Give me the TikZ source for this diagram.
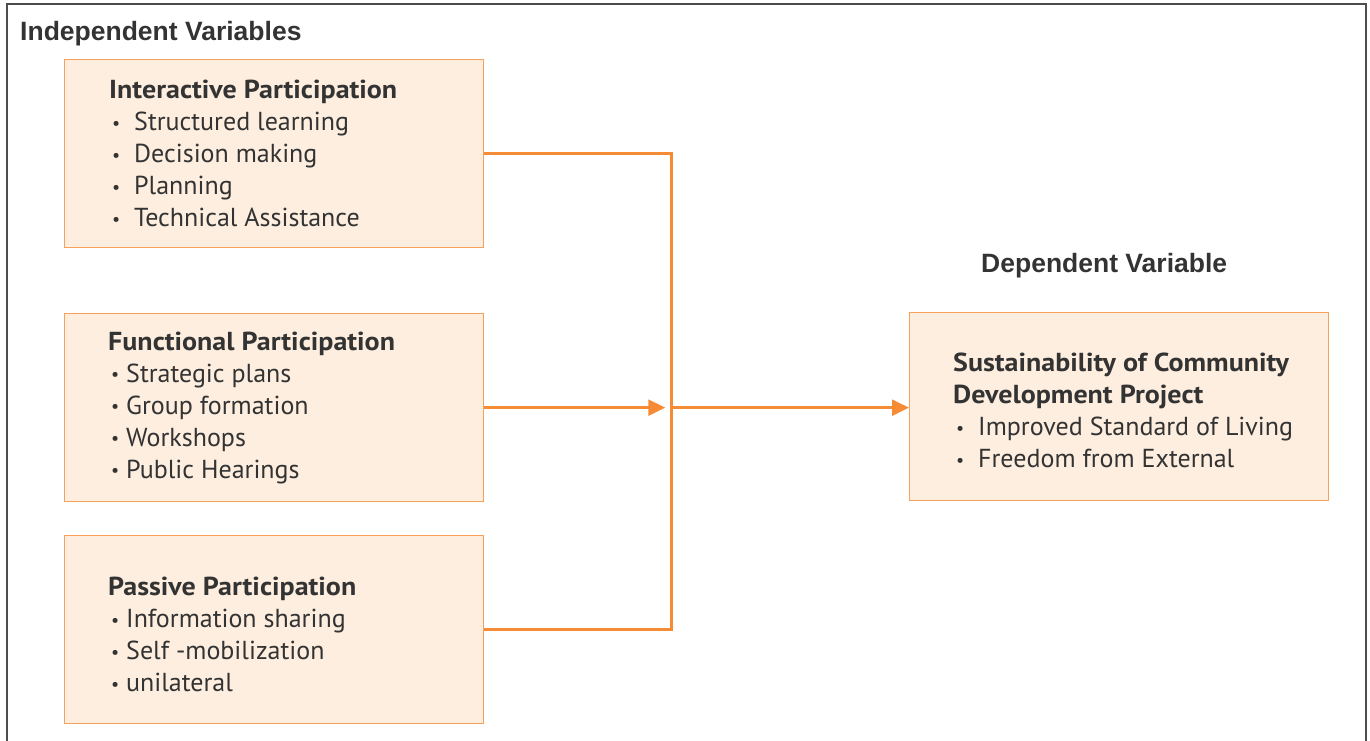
\documentclass[tikz,border=0pt]{standalone}
\usepackage{fontspec}
\setmainfont{PT Sans}[BoldFeatures={FakeStretch=1.077}]
\newfontfamily\arialfont{Liberation Sans}
\usetikzlibrary{arrows.meta}
\definecolor{boxfill}{HTML}{FDEEDF}
\definecolor{boxline}{HTML}{F7A15A}
\definecolor{conn}{HTML}{F68B35}
\definecolor{txt}{HTML}{333333}
\definecolor{framecol}{HTML}{4D4D4D}
\newcommand\smallbullet{\raisebox{1.5pt}{\fontsize{18}{18}\selectfont\textbullet}}
\newcommand\itm[2]{\hspace*{3pt}\makebox[#1][l]{\smallbullet}#2}
\begin{document}
\begin{tikzpicture}[x=1pt,y=-1pt,
  varbox/.style={draw=boxline, fill=boxfill, line width=1.3pt, minimum width=419pt, minimum height=188pt, inner sep=0pt, anchor=north west},
  boxtext/.style={anchor=west, align=left, inner sep=0pt, text=txt, font=\fontsize{26}{32}\selectfont},
  conline/.style={draw=conn, line width=2.4pt},
  arr/.style={conline, -{Triangle[length=17pt,width=16pt]}},
  heading/.style={font=\arialfont\bfseries\fontsize{26.5}{30}\selectfont, text=txt, inner sep=0pt, anchor=base west}]
\useasboundingbox (0,0) rectangle (1370,740);
\draw[framecol, line width=2pt] (7,760) -- (7,4) -- (1366,4) -- (1366,760);
\node[heading] (ivh) at (20,40) {Independent Variables};
\node[heading] (dvh) at (981,272) {Dependent Variable};

\node[varbox] (ip) at (64,59) {};
\node[boxtext] (ipt) at ([xshift=45pt]ip.west) {\textbf{Interactive Participation}\\
  \itm{22pt}{Structured learning}\\ \itm{22pt}{Decision making}\\ \itm{22pt}{Planning}\\ \itm{22pt}{Technical Assistance}};

\node[varbox] (fp) at (64,313) {};
\node[boxtext] (fpt) at ([xshift=44pt]fp.west) {\textbf{Functional Participation}\\
  \itm{15pt}{Strategic plans}\\ \itm{15pt}{Group formation}\\ \itm{15pt}{Workshops}\\ \itm{15pt}{Public Hearings}};

\node[varbox] (pp) at (64,535) {};
\node[boxtext] (ppt) at ([xshift=44pt,yshift=-5pt]pp.west) {\textbf{Passive Participation}\\
  \itm{15pt}{Information sharing}\\ \itm{15pt}{Self -mobilization}\\ \itm{15pt}{unilateral}};

\node[varbox] (dv) at (909,312) {};
\node[boxtext] (dvt) at ([xshift=44pt,yshift=-4pt]dv.west) {\textbf{Sustainability of Community}\\ \textbf{Development Project}\\
  \itm{22pt}{Improved Standard of Living}\\ \itm{22pt}{Freedom from External}};

\coordinate (j) at ([xshift=187pt]fp.east);
\draw[conline] (ip.east) -| (j) |- (pp.east);
\draw[arr, shorten >=6pt] (fp.east) -- (j);
\draw[arr] (j) -- (dv.west |- j);
\end{tikzpicture}
\end{document}
